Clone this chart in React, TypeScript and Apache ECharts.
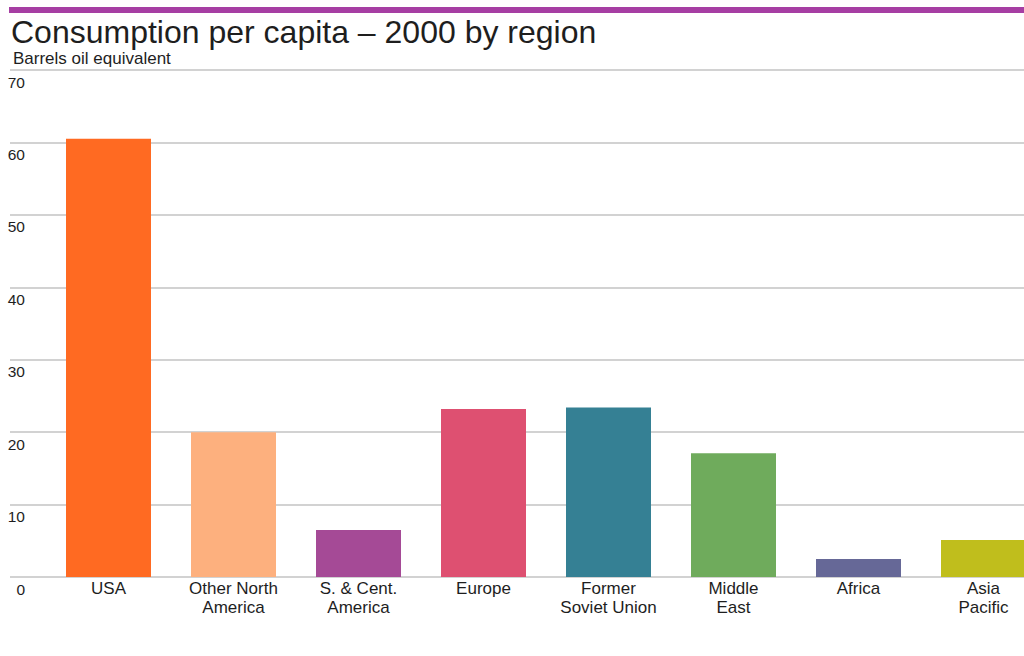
import React, { useEffect, useRef } from "react";
import * as echarts from "echarts";

const title = "Consumption per capita – 2000 by region";
const subtitle = "Barrels oil equivalent";
const categories = [
  "USA",
  "Other North\nAmerica",
  "S. & Cent.\nAmerica",
  "Europe",
  "Former\nSoviet Union",
  "Middle\nEast",
  "Africa",
  "Asia\nPacific",
];
const values = [60.5, 20.0, 6.5, 23.2, 23.4, 17.1, 2.5, 5.1];
const colors = [
  "#ff6a22",
  "#fdb07e",
  "#a54a96",
  "#de5071",
  "#358094",
  "#6fab5c",
  "#666897",
  "#c0be1c",
];
const yMin = 0;
const yMax = 70;
const yStep = 10;

const FONT = "'Liberation Sans', Arial, Helvetica, sans-serif";

export default function App() {
  const ref = useRef<HTMLDivElement>(null);
  useEffect(() => {
    if (!ref.current) return;
    const chart = echarts.init(ref.current, null, { renderer: "svg" });
    chart.setOption({
      animation: false,
      backgroundColor: "#ffffff",
      textStyle: { fontFamily: FONT },
      graphic: [
        {
          type: "rect",
          shape: { x: 9, y: 7, width: 1015, height: 6 },
          style: { fill: "#a63ea3" },
        },
      ],
      title: [
        {
          text: title,
          left: 6,
          top: 11,
          textStyle: { fontFamily: FONT, fontSize: 32, fontWeight: "normal", color: "#1e1e1e" },
        },
        {
          text: subtitle,
          left: 8,
          top: 45,
          textStyle: { fontFamily: FONT, fontSize: 17, fontWeight: "normal", color: "#1e1e1e" },
        },
      ],
      grid: [
        { left: 10, right: 0, top: 70, height: 507, outerBoundsMode: "none", containLabel: false },
        { left: 46, width: 1000, top: 70, height: 507, outerBoundsMode: "none", containLabel: false },
      ],
      xAxis: [
        { type: "value", gridIndex: 0, show: false, min: 0, max: 1 },
        {
          type: "category",
          gridIndex: 1,
          data: categories,
          axisLine: { show: false },
          axisTick: { show: false },
          axisLabel: {
            margin: 2,
            fontSize: 17,
            lineHeight: 19,
            color: "#1e1e1e",
            fontFamily: FONT,
            interval: 0,
          },
        },
      ],
      yAxis: [
        {
          type: "value",
          gridIndex: 0,
          min: yMin,
          max: yMax,
          interval: yStep,
          axisLine: { show: false },
          axisTick: { show: false },
          splitLine: { show: true, lineStyle: { color: "#d2d2d2", width: 2 } },
          axisLabel: {
            inside: true,
            margin: 15,
            align: "right",
            verticalAlign: "top",
            padding: [4, 0, 0, 0],
            fontSize: 15.5,
            color: "#1e1e1e",
            fontFamily: FONT,
            showMaxLabel: true,
            showMinLabel: true,
          },
        },
        {
          type: "value",
          gridIndex: 1,
          min: yMin,
          max: yMax,
          interval: yStep,
          show: false,
          splitLine: { show: false },
        },
      ],
      series: [
        {
          type: "bar",
          xAxisIndex: 1,
          yAxisIndex: 1,
          barWidth: 85,
          data: values.map((v, i) => ({ value: v, itemStyle: { color: colors[i] } })),
        },
      ],
    });
    return () => chart.dispose();
  }, []);
  return (
    <div
      ref={ref}
      style={{ position: "fixed", left: 0, top: 0, width: 1024, height: 656 }}
    />
  );
}
